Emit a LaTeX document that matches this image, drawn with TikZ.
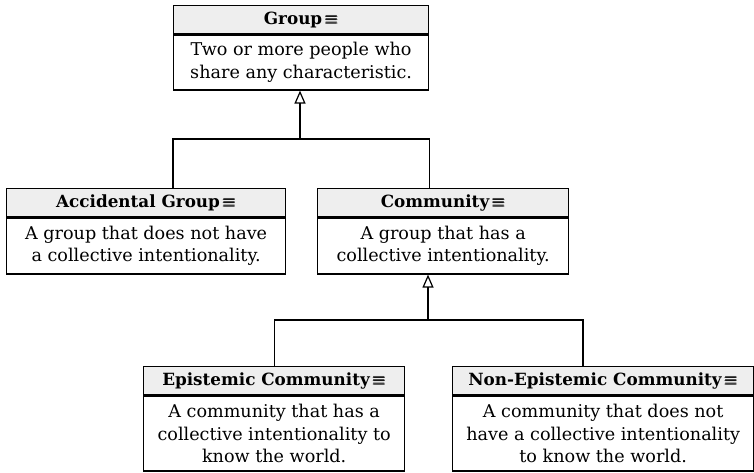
\documentclass[tikz,border=0pt]{standalone}
\usepackage{amsmath}
\usepackage{amssymb}
\usepackage{fontspec}
\setmainfont{DejaVu Serif}
\usetikzlibrary{arrows.meta}
\definecolor{headfill}{HTML}{EEEEEE}
\newcommand{\eqv}{\,$\pmb{\equiv}$}
\tikzset{
  classhead/.style={draw, line width=1.3pt, fill=headfill, anchor=north west,
                    inner sep=0pt, minimum height=28pt,
                    font=\bfseries\fontsize{16.8}{20}\selectfont},
  classbody/.style={draw, line width=1.3pt, anchor=north west, inner sep=0pt,
                    align=center, font=\fontsize{17.6}{22.5}\selectfont},
  link/.style={line width=1.3pt},
  inherit/.style={link, -{Triangle[open, length=13pt, width=11pt, line width=1.2pt]}},
}

\begin{document}
\begin{tikzpicture}[x=1pt, y=-1pt]
    \useasboundingbox (0,0) rectangle (754,472);
    % top class
    \node[classhead, minimum width=255pt] (grp-h) at (173,5) {Group\eqv};
    \node[classbody, minimum width=255pt, minimum height=55pt] (grp-b) at (grp-h.south west)
      {Two or more people who\\share any characteristic.};
    % second row
    \node[classhead, minimum width=279pt] (acc-h) at (6,188) {Accidental Group\eqv};
    \node[classbody, minimum width=279pt, minimum height=56pt] (acc-b) at (acc-h.south west)
      {A group that does not have\\a collective intentionality.};
    \node[classhead, minimum width=251pt] (com-h) at (317,188) {Community\eqv};
    \node[classbody, minimum width=251pt, minimum height=56pt] (com-b) at (com-h.south west)
      {A group that has a\\collective intentionality.};
    % third row
    \node[classhead, minimum width=261pt] (epi-h) at (143,366) {Epistemic Community\eqv};
    \node[classbody, minimum width=261pt, minimum height=75pt] (epi-b) at (epi-h.south west)
      {A community that has a\\collective intentionality to\\know the world.};
    \node[classhead, minimum width=301pt] (non-h) at (452,366) {Non-Epistemic Community\eqv};
    \node[classbody, minimum width=301pt, minimum height=75pt] (non-b) at (non-h.south west)
      {A community that does not\\have a collective intentionality\\to know the world.};
    % generalisations
    \coordinate (j1) at (300,139);
    \coordinate (j2) at (428,320);
    \draw[link] (acc-h.north -| grp-b.south west) |- (j1) -| (com-h.north -| grp-b.south east);
    \draw[inherit] (j1) -- (j1 |- grp-b.south);
    \draw[link] (epi-h.north) |- (j2) -| ([xshift=131pt]non-h.north west);
    \draw[inherit] (j2) -- (j2 |- com-b.south);
  \end{tikzpicture}
\end{document}
